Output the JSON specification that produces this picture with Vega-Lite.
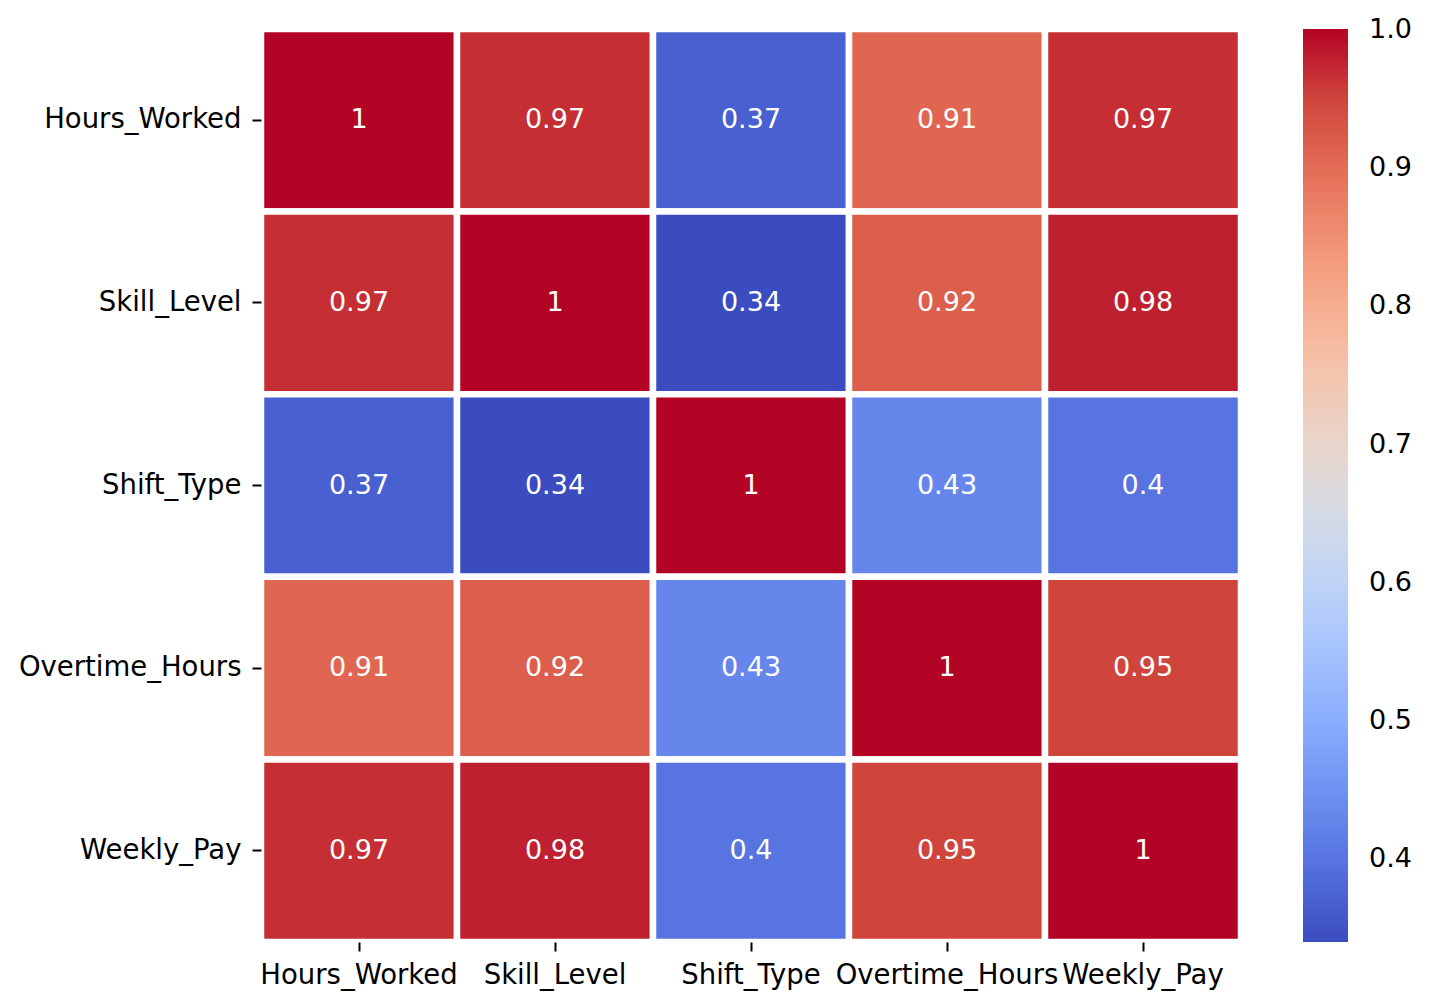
{
  "$schema": "https://vega.github.io/schema/vega-lite/v6.json",
  "autosize": {"type": "none"},
  "padding": {"left": 261, "top": 29, "right": 190, "bottom": 66},
  "width": 980,
  "height": 913,
  "background": "white",
  "config": {
    "view": {"stroke": null},
    "font": "DejaVu Sans"
  },
  "data": {
    "values": [
      {"x": "Hours_Worked", "y": "Hours_Worked", "v": 1.0},
      {"x": "Skill_Level", "y": "Hours_Worked", "v": 0.97},
      {"x": "Shift_Type", "y": "Hours_Worked", "v": 0.37},
      {"x": "Overtime_Hours", "y": "Hours_Worked", "v": 0.91},
      {"x": "Weekly_Pay", "y": "Hours_Worked", "v": 0.97},
      {"x": "Hours_Worked", "y": "Skill_Level", "v": 0.97},
      {"x": "Skill_Level", "y": "Skill_Level", "v": 1.0},
      {"x": "Shift_Type", "y": "Skill_Level", "v": 0.34},
      {"x": "Overtime_Hours", "y": "Skill_Level", "v": 0.92},
      {"x": "Weekly_Pay", "y": "Skill_Level", "v": 0.98},
      {"x": "Hours_Worked", "y": "Shift_Type", "v": 0.37},
      {"x": "Skill_Level", "y": "Shift_Type", "v": 0.34},
      {"x": "Shift_Type", "y": "Shift_Type", "v": 1.0},
      {"x": "Overtime_Hours", "y": "Shift_Type", "v": 0.43},
      {"x": "Weekly_Pay", "y": "Shift_Type", "v": 0.4},
      {"x": "Hours_Worked", "y": "Overtime_Hours", "v": 0.91},
      {"x": "Skill_Level", "y": "Overtime_Hours", "v": 0.92},
      {"x": "Shift_Type", "y": "Overtime_Hours", "v": 0.43},
      {"x": "Overtime_Hours", "y": "Overtime_Hours", "v": 1.0},
      {"x": "Weekly_Pay", "y": "Overtime_Hours", "v": 0.95},
      {"x": "Hours_Worked", "y": "Weekly_Pay", "v": 0.97},
      {"x": "Skill_Level", "y": "Weekly_Pay", "v": 0.98},
      {"x": "Shift_Type", "y": "Weekly_Pay", "v": 0.4},
      {"x": "Overtime_Hours", "y": "Weekly_Pay", "v": 0.95},
      {"x": "Weekly_Pay", "y": "Weekly_Pay", "v": 1.0}
    ]
  },
  "encoding": {
    "x": {
      "field": "x", "type": "nominal",
      "sort": ["Hours_Worked", "Skill_Level", "Shift_Type", "Overtime_Hours", "Weekly_Pay"],
      "scale": {"paddingInner": 0, "paddingOuter": 0},
      "axis": {
        "title": null, "orient": "bottom", "labelAngle": 0, "domain": false,
        "tickSize": 9, "tickWidth": 2, "tickColor": "black",
        "labelFontSize": 27.5, "labelColor": "black", "labelPadding": 10,
        "labelOverlap": false, "labelBound": false, "labelLimit": 0, "labelFont": "DejaVu Sans"
      }
    },
    "y": {
      "field": "y", "type": "nominal",
      "sort": ["Hours_Worked", "Skill_Level", "Shift_Type", "Overtime_Hours", "Weekly_Pay"],
      "scale": {"paddingInner": 0, "paddingOuter": 0},
      "axis": {
        "title": null, "domain": false,
        "tickSize": 9, "tickWidth": 2, "tickColor": "black",
        "labelFontSize": 27.5, "labelColor": "black", "labelPadding": 11,
        "labelOverlap": false, "labelBound": false, "labelLimit": 0, "labelFont": "DejaVu Sans"
      }
    }
  },
  "layer": [
    {
      "mark": {"type": "rect", "stroke": "white", "strokeWidth": 6.5},
      "encoding": {
        "color": {
          "field": "v", "type": "quantitative",
          "scale": {
            "domain": [0.34, 0.38125, 0.4225, 0.46375, 0.505, 0.54625, 0.5875, 0.62875, 0.67, 0.71125, 0.7525, 0.79375, 0.835, 0.87625, 0.9175, 0.95875, 1.0, 1.0008],
            "range": ["#3b4cc0", "#4e68d8", "#6282ea", "#779af7", "#8db0fe", "#a3c2fe", "#b8d0f9", "#ccd9ee", "#dddcdc", "#ecd3c5", "#f5c4ad", "#f7b194", "#f49a7b", "#ec7f63", "#dd604d", "#cb3e38", "#b40426", "#b40426"],
            "interpolate": "rgb"
          },
          "legend": {
            "title": null, "orient": "none", "legendX": 1042, "legendY": 0,
            "type": "gradient", "direction": "vertical",
            "gradientLength": 913, "gradientThickness": 45, "gradientStrokeWidth": 0,
            "values": [0.4, 0.5, 0.6, 0.7, 0.8, 0.9, 1.0],
            "format": ".1f",
            "labelFontSize": 27, "labelColor": "black", "labelOffset": 21,
            "labelOverlap": false, "labelBaseline": "middle", "labelFont": "DejaVu Sans",
            "padding": 0
          }
        }
      }
    },
    {
      "mark": {"type": "text", "color": "white", "fontSize": 27, "font": "DejaVu Sans", "baseline": "middle", "align": "center"},
      "encoding": {
        "text": {"field": "v", "type": "quantitative", "format": ".2~f"}
      }
    }
  ]
}
